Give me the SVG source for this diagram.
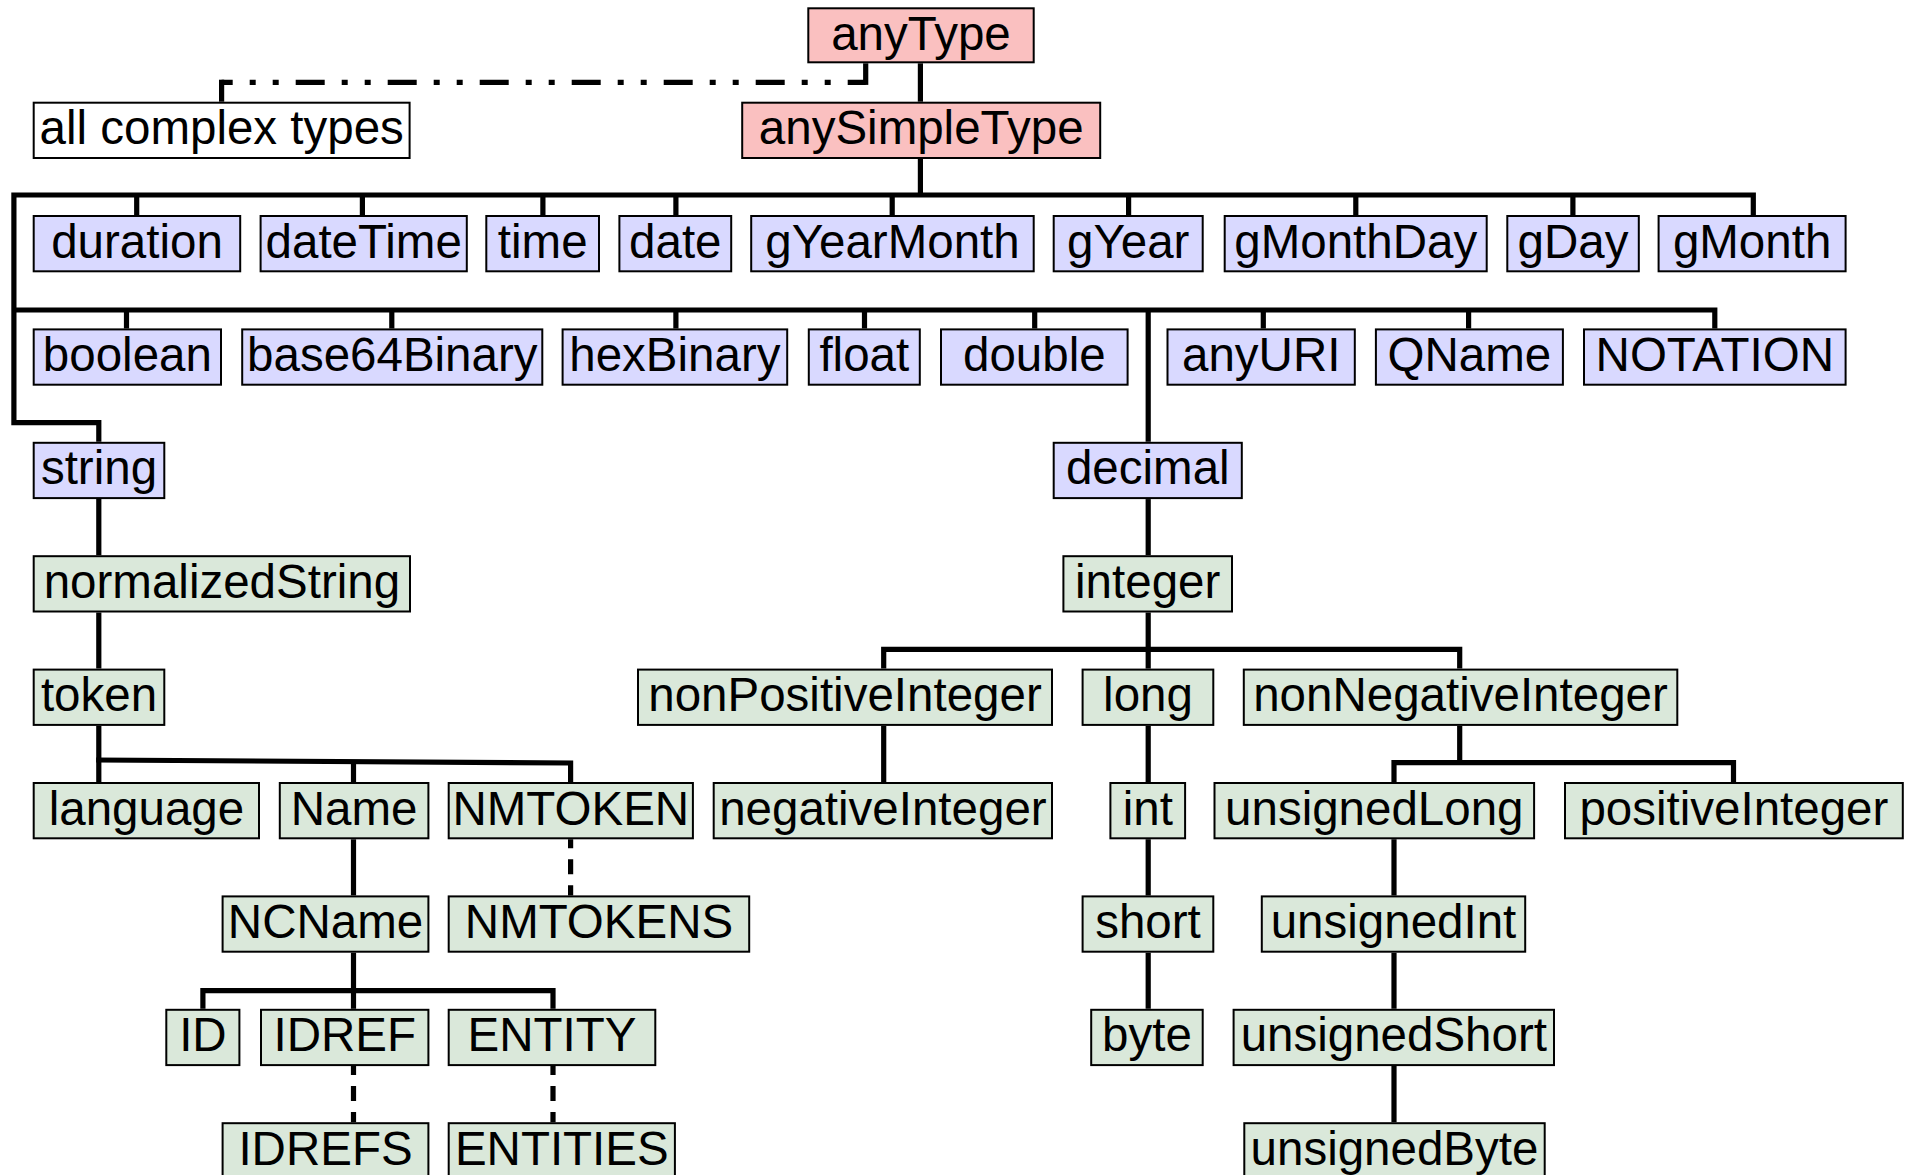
<svg xmlns="http://www.w3.org/2000/svg" width="1916" height="1175" viewBox="0 0 1916 1175">
<style>
.n rect{stroke:#000;stroke-width:2}
.p rect{fill:#FAC0C0}
.b rect{fill:#D9D9FF}
.g rect{fill:#DAE8DA}
.w rect{fill:#FFFFFF}
text{font-family:"Liberation Sans",Arial,Helvetica,sans-serif;font-size:47.5px;text-anchor:middle;fill:#000}
.c path{fill:none;stroke:#000;stroke-width:5.2;stroke-linejoin:miter;stroke-linecap:butt}
.c .dash{stroke-dasharray:15 11;stroke-dashoffset:6}
.c .dd{stroke-dasharray:29 17 6 17 6 17;stroke-dashoffset:11}
</style>
<rect width="1916" height="1175" fill="#fff"/>
<g class="c" id="connectors">
<path d="M865.7,63.3V84.9"/>
<path class="dd" d="M865.7,82.3H221.6"/>
<path d="M221.6,79.7V101.7"/>
<path d="M920.4,63.3V101.7"/>
<path d="M920.4,159V195"/>
<path d="M98.8,441.8V422.7H13.9V195H1753.3V215"/>
<path d="M136.7,195V215M362.4,195V215M542.9,195V215M675.9,195V215M892.2,195V215M1128.6,195V215M1355.8,195V215M1572.9,195V215"/>
<path d="M13.9,310H1714.8V328.4"/>
<path d="M126.5,310V328.4M391.8,310V328.4M675.9,310V328.4M864.5,310V328.4M1034.7,310V328.4M1263.3,310V328.4M1468.6,310V328.4"/>
<path d="M1148.2,310V441.8"/>
<path d="M1148.2,499.1V555.2"/>
<path d="M1148.2,612.5V668.6"/>
<path d="M883.7,668.6V649.3H1459.7V668.6"/>
<path d="M1148.2,725.9V782M1148.2,839.3V895.4M1148.2,952.7V1008.8"/>
<path d="M883.7,725.9V782"/>
<path d="M1459.7,725.9V762.7"/>
<path d="M1394,782V762.7H1733.5V782"/>
<path d="M1394,839.3V895.4M1394,952.7V1008.8M1394,1066.1V1122.2"/>
<path d="M98.8,499.1V555.2M98.8,612.5V668.6M98.8,725.9V782"/>
<path d="M96.2,760L570.6,763V782"/>
<path d="M353.5,761.5V782"/>
<path d="M353.5,839.3V895.4"/>
<path d="M353.5,952.7V1008.8"/>
<path d="M202.9,1008.8V990.7H553V1008.8"/>
<path class="dash" d="M570.6,839.3V895.4"/>
<path class="dash" d="M353.5,1066.1V1122.2"/>
<path class="dash" d="M553,1066.1V1122.2"/>
</g>
<g class="n p" id="anyType"><rect x="808.3" y="8.3" width="225.4" height="54"/><text x="921" y="50">anyType</text></g>
<g class="n w" id="allComplexTypes"><rect x="33.7" y="102.7" width="375.9" height="55.3"/><text x="221.7" y="144">all complex types</text></g>
<g class="n p" id="anySimpleType"><rect x="742.2" y="102.7" width="358" height="55.3"/><text x="921.2" y="144">anySimpleType</text></g>

<g class="n b" id="duration"><rect x="33.7" y="216" width="206.5" height="55.3"/><text x="137" y="257.5">duration</text></g>
<g class="n b" id="dateTime"><rect x="260.6" y="216" width="206.2" height="55.3"/><text x="363.7" y="257.5">dateTime</text></g>
<g class="n b" id="time"><rect x="486.3" y="216" width="112.7" height="55.3"/><text x="542.7" y="257.5">time</text></g>
<g class="n b" id="date"><rect x="619.4" y="216" width="111.8" height="55.3"/><text x="675.3" y="257.5">date</text></g>
<g class="n b" id="gYearMonth"><rect x="751.2" y="216" width="282.5" height="55.3"/><text x="892.5" y="257.5">gYearMonth</text></g>
<g class="n b" id="gYear"><rect x="1053.7" y="216" width="149" height="55.3"/><text x="1128.2" y="257.5">gYear</text></g>
<g class="n b" id="gMonthDay"><rect x="1224.7" y="216" width="262" height="55.3"/><text x="1355.7" y="257.5">gMonthDay</text></g>
<g class="n b" id="gDay"><rect x="1507.3" y="216" width="131.5" height="55.3"/><text x="1573" y="257.5">gDay</text></g>
<g class="n b" id="gMonth"><rect x="1658.6" y="216" width="187" height="55.3"/><text x="1752.1" y="257.5">gMonth</text></g>

<g class="n b" id="boolean"><rect x="33.7" y="329.4" width="187.3" height="55.3"/><text x="127.4" y="370.9">boolean</text></g>
<g class="n b" id="base64Binary"><rect x="242.2" y="329.4" width="300.1" height="55.3"/><text x="392.3" y="370.9">base64Binary</text></g>
<g class="n b" id="hexBinary"><rect x="562.6" y="329.4" width="224.6" height="55.3"/><text x="674.9" y="370.9">hexBinary</text></g>
<g class="n b" id="float"><rect x="808.8" y="329.4" width="111" height="55.3"/><text x="864.3" y="370.9">float</text></g>
<g class="n b" id="double"><rect x="941" y="329.4" width="186.6" height="55.3"/><text x="1034.3" y="370.9">double</text></g>
<g class="n b" id="anyURI"><rect x="1167.5" y="329.4" width="187.3" height="55.3"/><text x="1261.2" y="370.9">anyURI</text></g>
<g class="n b" id="QName"><rect x="1375.9" y="329.4" width="187" height="55.3"/><text x="1469.4" y="370.9">QName</text></g>
<g class="n b" id="NOTATION"><rect x="1584" y="329.4" width="261.6" height="55.3"/><text x="1714.8" y="370.9">NOTATION</text></g>

<g class="n b" id="string"><rect x="33.7" y="442.8" width="130.6" height="55.3"/><text x="99" y="484.3">string</text></g>
<g class="n b" id="decimal"><rect x="1053.7" y="442.8" width="188.1" height="55.3"/><text x="1147.8" y="484.3">decimal</text></g>

<g class="n g" id="normalizedString"><rect x="33.7" y="556.2" width="376.3" height="55.3"/><text x="221.9" y="597.7">normalizedString</text></g>
<g class="n g" id="integer"><rect x="1063.4" y="556.2" width="168.6" height="55.3"/><text x="1147.7" y="597.7">integer</text></g>

<g class="n g" id="token"><rect x="33.7" y="669.6" width="130.6" height="55.3"/><text x="99" y="711.1">token</text></g>
<g class="n g" id="nonPositiveInteger"><rect x="638" y="669.6" width="414" height="55.3"/><text x="845" y="711.1">nonPositiveInteger</text></g>
<g class="n g" id="long"><rect x="1082.6" y="669.6" width="130.7" height="55.3"/><text x="1148" y="711.1">long</text></g>
<g class="n g" id="nonNegativeInteger"><rect x="1243.8" y="669.6" width="433.5" height="55.3"/><text x="1460.5" y="711.1">nonNegativeInteger</text></g>

<g class="n g" id="language"><rect x="33.7" y="783" width="225.3" height="55.3"/><text x="146.4" y="824.5">language</text></g>
<g class="n g" id="Name"><rect x="279.8" y="783" width="148.6" height="55.3"/><text x="354.1" y="824.5">Name</text></g>
<g class="n g" id="NMTOKEN"><rect x="448.7" y="783" width="244.2" height="55.3"/><text x="570.8" y="824.5">NMTOKEN</text></g>
<g class="n g" id="negativeInteger"><rect x="713.7" y="783" width="338.3" height="55.3"/><text x="882.9" y="824.5">negativeInteger</text></g>
<g class="n g" id="int"><rect x="1110.4" y="783" width="74.7" height="55.3"/><text x="1147.8" y="824.5">int</text></g>
<g class="n g" id="unsignedLong"><rect x="1214.5" y="783" width="319.6" height="55.3"/><text x="1374.3" y="824.5">unsignedLong</text></g>
<g class="n g" id="positiveInteger"><rect x="1565" y="783" width="337.8" height="55.3"/><text x="1733.9" y="824.5">positiveInteger</text></g>

<g class="n g" id="NCName"><rect x="222.6" y="896.4" width="205.8" height="55.3"/><text x="325.5" y="937.9">NCName</text></g>
<g class="n g" id="NMTOKENS"><rect x="448.7" y="896.4" width="300.5" height="55.3"/><text x="599" y="937.9">NMTOKENS</text></g>
<g class="n g" id="short"><rect x="1082.6" y="896.4" width="130.7" height="55.3"/><text x="1148" y="937.9">short</text></g>
<g class="n g" id="unsignedInt"><rect x="1261.8" y="896.4" width="263.4" height="55.3"/><text x="1393.5" y="937.9">unsignedInt</text></g>

<g class="n g" id="ID"><rect x="166.3" y="1009.8" width="73.1" height="55.3"/><text x="202.9" y="1051.3">ID</text></g>
<g class="n g" id="IDREF"><rect x="261" y="1009.8" width="167.4" height="55.3"/><text x="344.7" y="1051.3">IDREF</text></g>
<g class="n g" id="ENTITY"><rect x="448.7" y="1009.8" width="206.6" height="55.3"/><text x="552" y="1051.3">ENTITY</text></g>
<g class="n g" id="byte"><rect x="1091.2" y="1009.8" width="111.5" height="55.3"/><text x="1147" y="1051.3">byte</text></g>
<g class="n g" id="unsignedShort"><rect x="1233.6" y="1009.8" width="320.4" height="55.3"/><text x="1393.8" y="1051.3">unsignedShort</text></g>

<g class="n g" id="IDREFS"><rect x="222.6" y="1123.2" width="205.8" height="55.3"/><text x="325.5" y="1164.7">IDREFS</text></g>
<g class="n g" id="ENTITIES"><rect x="448.7" y="1123.2" width="226.2" height="55.3"/><text x="561.8" y="1164.7">ENTITIES</text></g>
<g class="n g" id="unsignedByte"><rect x="1244.3" y="1123.2" width="300.4" height="55.3"/><text x="1394.5" y="1164.7">unsignedByte</text></g>
</svg>
